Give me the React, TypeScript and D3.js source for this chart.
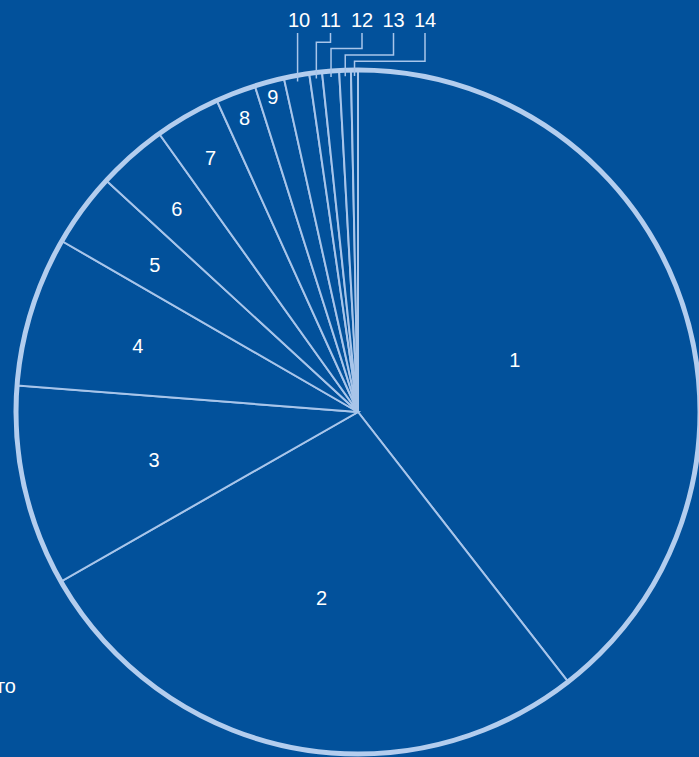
import React from "react";
import * as d3 from "d3";

const categories = ["1", "2", "3", "4", "5", "6", "7", "8", "9", "10", "11", "12", "13", "14"];
const values = [39.5, 27.3, 9.5, 7.1, 3.5, 3.3, 3.1, 1.9, 1.4, 1.2, 0.6, 0.8, 0.55, 0.33];
const outsideFrom = 9; // categories from this index get leader labels
const cornerText = "го";

const W = 699;
const H = 757;
const cx = 358;
const cy = 412;
const R = 342;
const BG = "#02519b";
const RING = "#b3cdee";
const LINE = "#a8c5ea";
const FONT = "'Liberation Sans', Arial, Helvetica, sans-serif";

type D = { name: string; value: number };

export default function App() {
  React.useEffect(() => {
    document.body.style.margin = "0";
    document.body.style.background = BG;
  }, []);

  const data: D[] = categories.map((c, i) => ({ name: c, value: values[i] }));
  const pie = d3
    .pie<D>()
    .value((d) => d.value)
    .sort(null)
    .startAngle(0)
    .endAngle(2 * Math.PI);
  const arcs = pie(data);
  const arc = d3.arc<d3.PieArcDatum<D>>().innerRadius(0).outerRadius(R);

  const polar = (a: number, r: number): [number, number] => [
    Math.sin(a) * r,
    -Math.cos(a) * r,
  ];

  return (
    <svg
      width={W}
      height={H}
      style={{ position: "absolute", left: 0, top: 0, background: BG }}
    >
      <rect x={0} y={0} width={W} height={H} fill={BG} />
      <g transform={`translate(${cx},${cy})`}>
        {arcs.map((a, i) => (
          <path key={i} d={arc(a) || ""} fill={BG} stroke={LINE} strokeWidth={2} />
        ))}
        <circle r={R} fill="none" stroke={RING} strokeWidth={5} />
        {arcs.map((a, i) => {
          if (i >= outsideFrom) return null;
          const mid = (a.startAngle + a.endAngle) / 2;
          const fr = Math.min(0.96, 0.485 + 0.063 * i);
          const [x, y] = polar(mid, R * fr);
          return (
            <text
              key={"l" + i}
              x={x}
              y={y}
              dy="0.45em"
              textAnchor="middle"
              fill="#ffffff"
              fontFamily={FONT}
              fontSize={20}
            >
              {a.data.name}
            </text>
          );
        })}
      </g>
      {arcs.map((a, i) => {
        if (i < outsideFrom) return null;
        const k = i - outsideFrom;
        const mid = (a.startAngle + a.endAngle) / 2;
        const [ex, ey] = polar(mid, R - 6);
        const endX = cx + ex;
        const endY = cy + ey;
        const lx = 299 + 31.5 * k;
        const top = 33;
        const elbow = 36 + 6.3 * k;
        const pts =
          k === 0
            ? `${endX},${top} ${endX},${endY}`
            : `${lx},${top} ${lx},${elbow} ${endX},${elbow} ${endX},${endY}`;
        return (
          <g key={"o" + i}>
            <polyline points={pts} fill="none" stroke={LINE} strokeWidth={1.5} />
            <text
              x={lx}
              y={27}
              textAnchor="middle"
              fill="#ffffff"
              fontFamily={FONT}
              fontSize={20}
            >
              {a.data.name}
            </text>
          </g>
        );
      })}
      <text x={16} y={693} textAnchor="end" fill="#ffffff" fontFamily={FONT} fontSize={20}>
        {cornerText}
      </text>
    </svg>
  );
}
